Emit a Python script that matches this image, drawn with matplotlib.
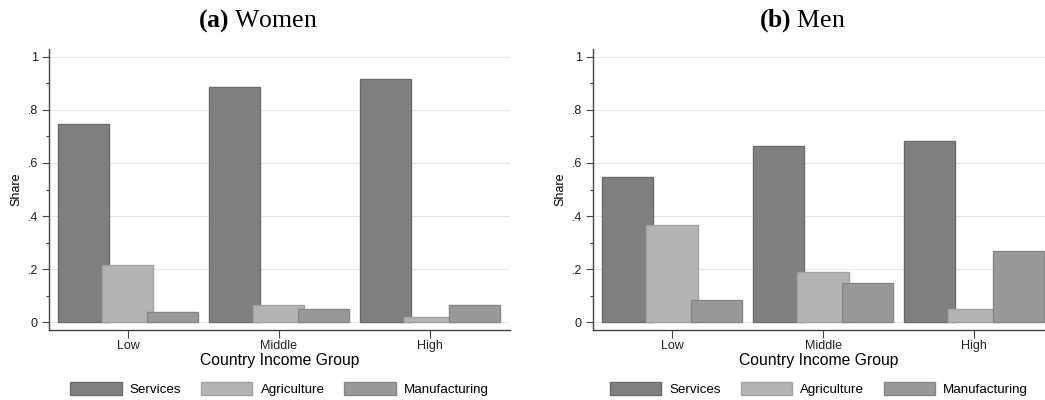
import matplotlib
matplotlib.use("Agg")
import matplotlib.pyplot as plt
import numpy as np
from matplotlib.ticker import FixedLocator

plt.rcParams['font.family'] = ['Liberation Sans', 'DejaVu Sans']
plt.rcParams['mathtext.fontset'] = 'custom'
plt.rcParams['mathtext.rm'] = 'Liberation Serif'
plt.rcParams['mathtext.bf'] = 'Liberation Serif:bold'

groups = ["Low", "Middle", "High"]
sectors = ["Services", "Agriculture", "Manufacturing"]

women_services = [0.747, 0.888, 0.917]
women_agriculture = [0.214, 0.064, 0.018]
women_manufacturing = [0.039, 0.048, 0.064]

men_services = [0.547, 0.665, 0.683]
men_agriculture = [0.367, 0.189, 0.048]
men_manufacturing = [0.083, 0.146, 0.268]

y_ticks = [0, 0.2, 0.4, 0.6, 0.8, 1.0]
y_tick_labels = ["0", ".2", ".4", ".6", ".8", "1"]

fills = ["#808080", "#b3b3b3", "#999999"]
edges = ["#6c6c6c", "#a2a2a2", "#878787"]
spine_col = "#444444"

W, H = 1045, 400
fig = plt.figure(figsize=(W / 100, H / 100), dpi=100)
ax_w = fig.add_axes([49 / W, 70 / H, 461 / W, 281 / H])
ax_m = fig.add_axes([593 / W, 70 / H, 452 / W, 281 / H])

step = 0.296
width = 0.338
x = np.arange(len(groups))


def draw(ax, series, xlim):
    for side in ["top", "right"]:
        ax.spines[side].set_visible(False)
    for side in ["left", "bottom"]:
        ax.spines[side].set_color(spine_col)
        ax.spines[side].set_linewidth(1.0)
    ax.set_axisbelow(True)
    ax.yaxis.grid(True, color="#e6e6e6", linewidth=0.8)
    for i, vals in enumerate(series):
        ax.bar(x + (i - 1) * step, vals, width=width, color=fills[i],
               edgecolor=edges[i], linewidth=1.0, label=sectors[i], zorder=2 + i)
    ax.set_xlim(*xlim)
    ax.set_ylim(-0.03, 1.03)
    ax.set_yticks(y_ticks)
    ax.set_yticklabels(y_tick_labels)
    ax.yaxis.set_minor_locator(FixedLocator([0.1, 0.3, 0.5, 0.7, 0.9]))
    ax.set_xticks(x)
    ax.set_xticklabels(groups)
    ax.tick_params(axis="y", which="major", length=5, width=0.8, color=spine_col,
                   labelsize=9, labelcolor="#222222", pad=3)
    ax.tick_params(axis="y", which="minor", length=2, width=0.8, color=spine_col)
    ax.tick_params(axis="x", length=6, width=0.8, color=spine_col,
                   labelsize=9, labelcolor="#222222", pad=1)
    ax.set_ylabel("Share", fontsize=9, labelpad=4)
    ax.set_xlabel("Country Income Group", fontsize=11.3, labelpad=1)
    ax.legend(loc="center", bbox_to_anchor=(0.5, -0.21), ncol=3, frameon=False,
              fontsize=9.6, handlelength=3.85, handleheight=1.1, handletextpad=0.6,
              columnspacing=1.5)


draw(ax_w, [women_services, women_agriculture, women_manufacturing], (-0.523, 2.53))
draw(ax_m, [men_services, men_agriculture, men_manufacturing], (-0.523, 2.47))

fig.text(257.5 / W, 1 - 27 / H, r"$\mathbf{(a)}$ Women", fontsize=18.5,
         family="Liberation Serif", ha="center", va="baseline")
fig.text(802 / W, 1 - 27 / H, r"$\mathbf{(b)}$ Men", fontsize=18.5,
         family="Liberation Serif", ha="center", va="baseline")

fig.savefig("out.png", dpi=100)
